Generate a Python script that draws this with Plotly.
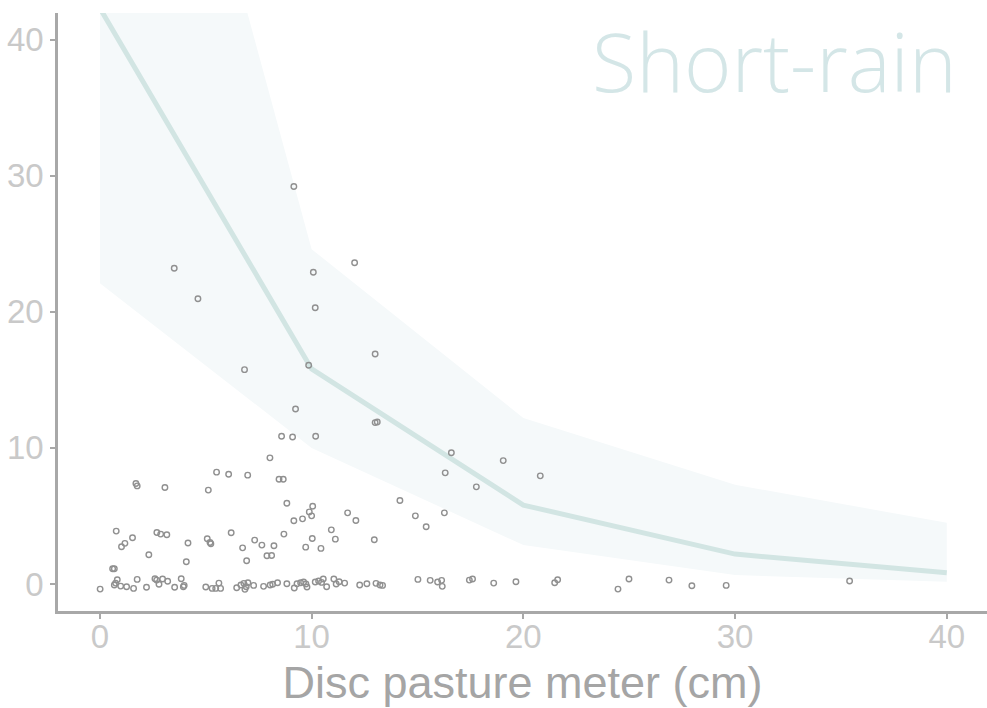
import plotly.graph_objects as go

# Fitted curve and its confidence band
fit_x = [0, 10, 20, 30, 40]
fit_y = [42.3, 15.8, 5.8, 2.2, 0.83]
ci_low = [22.1, 10.0, 2.86, 0.66, 0.17]
ci_high = [81.8, 24.6, 12.2, 7.3, 4.5]

# Observations: disc pasture meter height (cm) vs response
obs_x = [
    9.16, 3.51, 4.63, 10.08, 12.03, 10.17, 13.0, 9.86, 6.83, 9.24, 13.0, 13.1, 8.58, 9.10, 10.19,
    16.6, 16.31, 17.78, 19.05, 20.8, 16.27, 15.95, 16.14, 16.17, 17.45, 17.6, 18.6, 19.65, 21.48, 21.62,
    24.47, 24.99, 26.88, 27.96, 29.58, 35.41,
    14.17, 11.7, 12.09, 14.9, 15.41, 10.93, 11.12, 12.96, 10.44, 10.55, 10.47, 10.71, 11.05, 11.16,
    11.3, 11.56, 12.27, 12.61, 13.04, 13.23, 13.35, 15.02, 15.6,
    8.03, 5.51, 6.08, 6.98, 8.46, 8.66, 5.12, 8.83, 10.05, 9.89, 10.0, 9.16, 9.57, 6.2, 8.69,
    5.07, 5.24, 5.2, 7.31, 7.65, 8.22, 10.03, 6.74, 9.72, 7.89, 8.11, 6.93,
    5.0, 5.3, 5.47, 5.7, 5.62, 6.46, 6.66, 6.8, 6.91, 6.99, 7.26, 6.85, 7.73, 8.04, 8.16, 8.39,
    8.83, 9.18, 9.31, 9.48, 9.62, 9.73, 9.78, 10.17, 10.33,
    1.70, 1.76, 3.07, 0.77, 1.54, 1.18, 1.02, 2.69, 2.87, 3.16, 4.16, 2.31, 4.08, 0.6, 0.68,
    0.01, 0.82, 0.74, 0.68, 0.98, 1.26, 1.59, 1.76, 2.2, 2.6, 2.68, 2.79, 2.96, 3.2, 3.53, 3.84,
    3.94, 3.98,
]
obs_y = [
    29.2, 23.2, 20.96, 22.9, 23.6, 20.3, 16.9, 16.07, 15.75, 12.86, 11.86, 11.9, 10.86, 10.8, 10.86,
    9.64, 8.17, 7.14, 9.07, 7.95, 5.23, 0.15, 0.27, -0.17, 0.29, 0.37, 0.07, 0.17, 0.1, 0.32,
    -0.37, 0.37, 0.29, -0.12, -0.1, 0.22,
    6.14, 5.23, 4.67, 5.01, 4.21, 3.98, 3.3, 3.25, 2.62, 0.37, 0.12, -0.2, 0.37, 0.0,
    0.17, 0.07, -0.07, 0.02, 0.05, -0.07, -0.1, 0.34, 0.27,
    9.27, 8.22, 8.07, 8.0, 7.7, 7.7, 6.9, 5.94, 5.72, 5.3, 5.01, 4.65, 4.79, 3.77, 3.67,
    3.33, 2.96, 3.05, 3.23, 2.86, 2.81, 3.35, 2.66, 2.71, 2.08, 2.1, 1.71,
    -0.22, -0.32, -0.32, -0.32, 0.07, -0.27, -0.07, 0.05, -0.2, 0.1, -0.1, -0.39, -0.17, -0.07, -0.02, 0.1,
    0.02, -0.29, 0.02, 0.1, 0.15, 0.0, -0.22, 0.15, 0.22,
    7.39, 7.21, 7.09, 3.89, 3.4, 2.99, 2.74, 3.79, 3.67, 3.62, 3.01, 2.15, 1.64, 1.12, 1.12,
    -0.37, 0.32, 0.07, -0.07, -0.15, -0.2, -0.32, 0.34, -0.24, 0.39, 0.29, -0.02, 0.37, 0.2, -0.24, 0.39,
    -0.2, -0.1,
]

tick_vals = [0, 10, 20, 30, 40]

fig = go.Figure()

# Confidence band
fig.add_trace(go.Scatter(
    x=fit_x, y=ci_low, mode="lines", line=dict(width=0, color="rgba(0,0,0,0)"),
    hoverinfo="skip", showlegend=False,
))
fig.add_trace(go.Scatter(
    x=fit_x, y=ci_high, mode="lines", line=dict(width=0, color="rgba(0,0,0,0)"),
    fill="tonexty", fillcolor="#f5f9fa", hoverinfo="skip", showlegend=False,
))

# Fitted line
fig.add_trace(go.Scatter(
    x=fit_x, y=fit_y, mode="lines", line=dict(color="#d2e5e3", width=5),
    showlegend=False,
))

# Raw observations
fig.add_trace(go.Scatter(
    x=obs_x, y=obs_y, mode="markers",
    marker=dict(symbol="circle-open", size=5.5, color="#909090", line=dict(width=1.4, color="#909090")),
    showlegend=False,
))

axis_common = dict(
    showgrid=False, zeroline=False,
    showline=True, linecolor="#a8a8a8", linewidth=2.5,
    ticks="outside", ticklen=5, tickwidth=1.5, tickcolor="#a8a8a8",
    tickfont=dict(family="Liberation Sans, Arial, sans-serif", size=33, color="#c9c9c9"),
    tickvals=tick_vals,
)

fig.update_layout(
    width=987, height=708,
    margin=dict(l=58, r=0, t=13, b=97),
    paper_bgcolor="white", plot_bgcolor="white",
    xaxis=dict(
        range=[-1.98, 41.9], **axis_common, ticklabelstandoff=-10,
        title=dict(text="Disc pasture meter (cm)", standoff=14,
                   font=dict(family="Liberation Sans, Arial, sans-serif", size=45, color="#a5a5a5")),
    ),
    yaxis=dict(range=[-1.98, 41.95], **axis_common),
    annotations=[dict(
        text="Short-rain", xref="paper", yref="paper", x=0.970, y=1.017,
        xanchor="right", yanchor="top", showarrow=False,
        font=dict(family="Open Sans, sans-serif", size=81, color="#d4e6e7", weight=300),
    )],
)

fig.write_html("out.html")
